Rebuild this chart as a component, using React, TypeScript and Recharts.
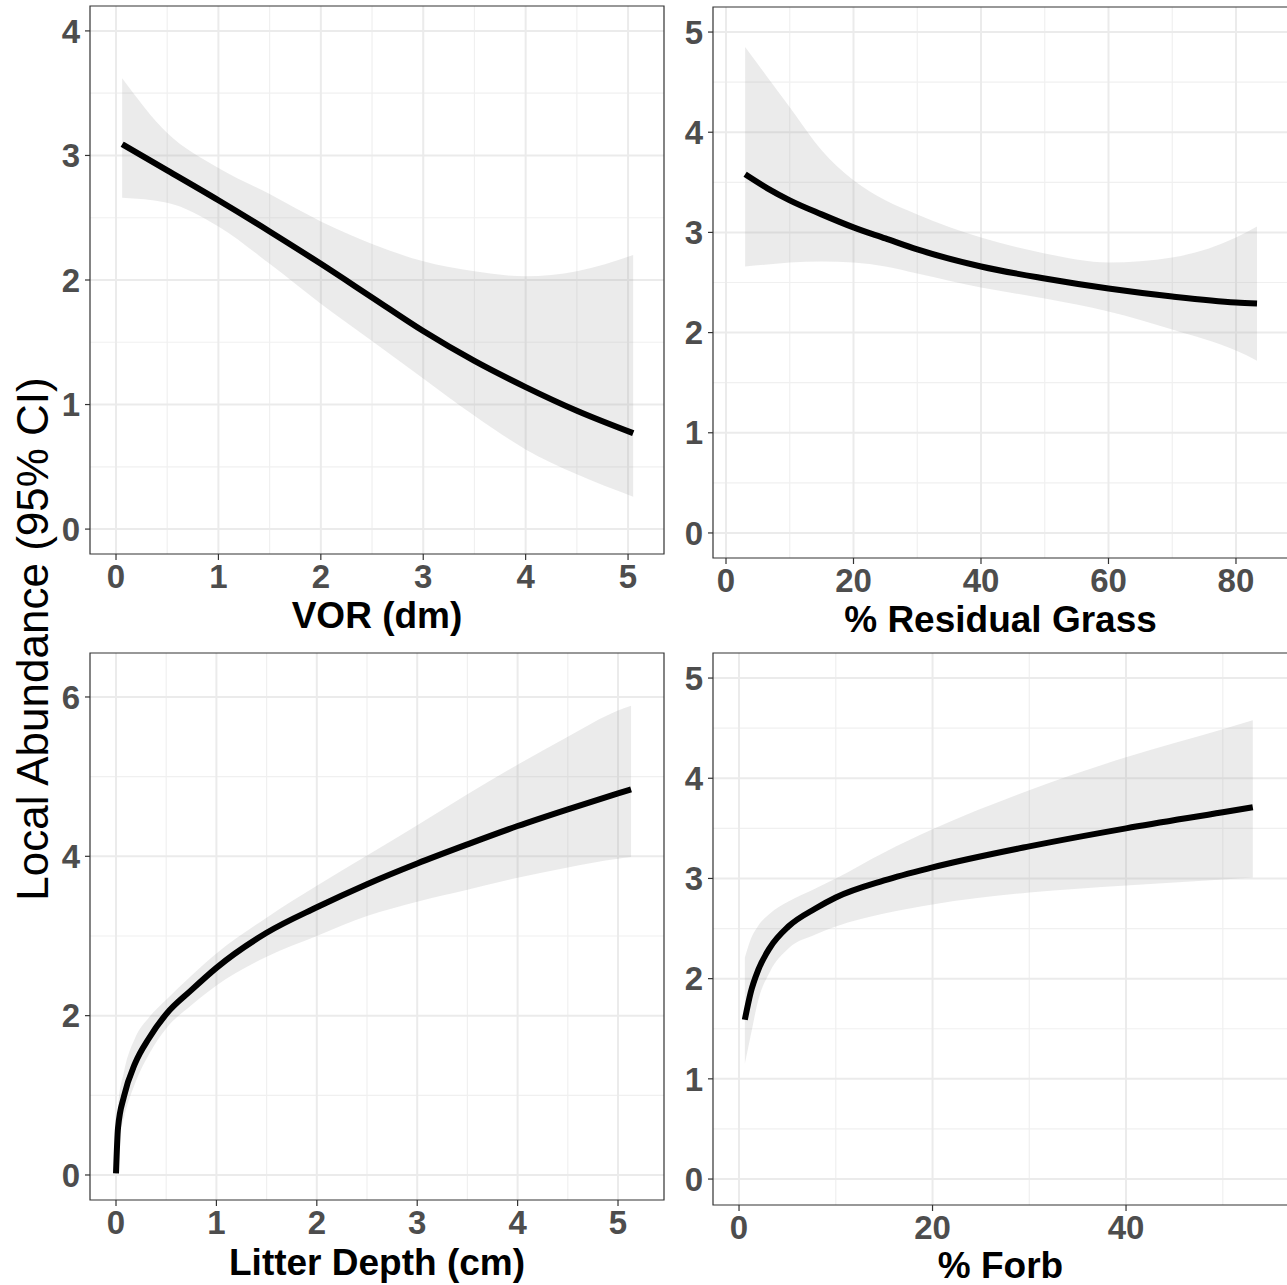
import React from 'react';
import {
  ComposedChart,
  Area,
  Line,
  XAxis,
  YAxis,
  CartesianGrid,
  ReferenceArea,
} from 'recharts';

const FONT = '"Liberation Sans", Arial, Helvetica, sans-serif';

// VOR (dm)
const vorX = [0.06, 0.5, 1, 1.5, 2, 2.5, 3, 3.5, 4, 4.5, 5.05];
const vorFit = [3.09, 2.88, 2.64, 2.39, 2.13, 1.86, 1.59, 1.35, 1.14, 0.95, 0.77];
const vorLow = [2.66, 2.62, 2.43, 2.13, 1.81, 1.51, 1.21, 0.91, 0.64, 0.44, 0.26];
const vorHigh = [3.62, 3.18, 2.9, 2.69, 2.47, 2.29, 2.15, 2.07, 2.03, 2.07, 2.2];

// % Residual Grass
const grassX = [3, 6.5, 10, 15, 20, 25, 30, 40, 50, 60, 70, 80, 83.3];
const grassFit = [3.58, 3.44, 3.32, 3.18, 3.05, 2.94, 2.83, 2.66, 2.54, 2.44, 2.36, 2.3, 2.29];
const grassLow = [2.66, 2.68, 2.7, 2.71, 2.7, 2.66, 2.59, 2.45, 2.34, 2.21, 2.03, 1.82, 1.72];
const grassHigh = [4.85, 4.55, 4.25, 3.82, 3.52, 3.32, 3.18, 2.95, 2.79, 2.7, 2.75, 2.95, 3.06];

// Litter Depth (cm)
const litterX = [0, 0.02, 0.08, 0.19, 0.33, 0.5, 0.75, 1, 1.5, 2, 2.5, 3, 3.5, 4, 4.5, 5, 5.13];
const litterFit = [0.02, 0.59, 0.99, 1.4, 1.72, 2.02, 2.32, 2.6, 3.04, 3.36, 3.65, 3.91, 4.15, 4.38, 4.59, 4.79, 4.84];
const litterLow = [0.0, 0.35, 0.72, 1.15, 1.52, 1.84, 2.13, 2.38, 2.74, 3.0, 3.25, 3.43, 3.58, 3.73, 3.86, 3.97, 3.99];
const litterHigh = [0.05, 0.85, 1.3, 1.72, 1.98, 2.2, 2.5, 2.78, 3.23, 3.63, 4.01, 4.39, 4.78, 5.15, 5.5, 5.83, 5.89];

// % Forb
const forbX = [0.6, 1.2, 2, 3.2, 5.1, 7.9, 10, 15, 20, 30, 40, 50, 53.1];
const forbFit = [1.59, 1.86, 2.09, 2.31, 2.52, 2.7, 2.81, 2.98, 3.11, 3.32, 3.5, 3.66, 3.71];
const forbLow = [1.15, 1.43, 1.79, 2.07, 2.3, 2.44, 2.52, 2.65, 2.74, 2.86, 2.93, 2.99, 3.01];
const forbHigh = [2.21, 2.39, 2.53, 2.65, 2.77, 2.9, 3.0, 3.26, 3.49, 3.88, 4.21, 4.49, 4.58];

const unitTicks = [0, 1, 2, 3, 4, 5];
const unitMinor = [0.5, 1.5, 2.5, 3.5, 4.5];

interface PanelProps {
  left: number;
  top: number;
  width: number;
  height: number;
  margin: { top: number; right: number; bottom: number; left: number };
  yAxisWidth: number;
  xAxisHeight: number;
  x: number[];
  fit: number[];
  low: number[];
  high: number[];
  xDomain: [number, number];
  yDomain: [number, number];
  xTicks: number[];
  xMinor: number[];
  yTicks: number[];
  yMinor: number[];
  xLabel: string;
  labelOffset: number;
}

function Panel(p: PanelProps) {
  const rows = p.x.map((v, i) => ({ x: v, fit: p.fit[i], band: [p.low[i], p.high[i]] }));
  const tick = { fill: '#4D4D4D', fontSize: 33, fontWeight: 'bold', fontFamily: FONT };

  return (
    <div style={{ position: 'absolute', left: p.left, top: p.top }}>
      <ComposedChart width={p.width} height={p.height} data={rows} margin={p.margin}>
        <CartesianGrid stroke="#F0F0F0" strokeWidth={1.2} horizontalValues={p.yMinor} verticalValues={p.xMinor} />
        <CartesianGrid stroke="#EBEBEB" strokeWidth={2} horizontalValues={p.yTicks} verticalValues={p.xTicks} />
        <XAxis
          dataKey="x"
          type="number"
          domain={p.xDomain}
          allowDataOverflow
          ticks={p.xTicks}
          interval={0}
          height={p.xAxisHeight}
          tick={tick}
          tickSize={6}
          tickMargin={5}
          tickLine={{ stroke: '#333333', strokeWidth: 1.2 }}
          axisLine={false}
          label={{
            value: p.xLabel,
            position: 'insideBottom',
            offset: p.labelOffset,
            fill: '#000000',
            fontSize: 37,
            fontWeight: 'bold',
            fontFamily: FONT,
          }}
        />
        <YAxis
          type="number"
          domain={p.yDomain}
          allowDataOverflow
          ticks={p.yTicks}
          interval={0}
          width={p.yAxisWidth}
          tick={tick}
          tickSize={5}
          tickMargin={5}
          tickLine={{ stroke: '#333333', strokeWidth: 1.2 }}
          axisLine={false}
        />
        <Area
          dataKey="band"
          type="monotone"
          stroke="none"
          fill="#999999"
          fillOpacity={0.2}
          isAnimationActive={false}
        />
        <Line
          dataKey="fit"
          type="monotone"
          stroke="#000000"
          strokeWidth={6}
          dot={false}
          activeDot={false}
          isAnimationActive={false}
        />
        <ReferenceArea
          x1={p.xDomain[0]}
          x2={p.xDomain[1]}
          y1={p.yDomain[0]}
          y2={p.yDomain[1]}
          fill="none"
          stroke="#333333"
          strokeWidth={1.2}
          ifOverflow="visible"
        />
      </ComposedChart>
    </div>
  );
}

export default function App() {
  return (
    <div
      style={{
        position: 'absolute',
        left: 0,
        top: 0,
        width: 1287,
        height: 1285,
        overflow: 'hidden',
        background: '#ffffff',
      }}
    >
      <Panel
        left={0}
        top={0}
        width={670}
        height={640}
        margin={{ top: 6, right: 6, bottom: 0, left: 0 }}
        yAxisWidth={90}
        xAxisHeight={86}
        x={vorX}
        fit={vorFit}
        low={vorLow}
        high={vorHigh}
        xDomain={[-0.254, 5.351]}
        yDomain={[-0.2, 4.2]}
        xTicks={unitTicks}
        xMinor={unitMinor}
        yTicks={[0, 1, 2, 3, 4]}
        yMinor={[0.5, 1.5, 2.5, 3.5]}
        xLabel="VOR (dm)"
        labelOffset={12}
      />
      <Panel
        left={670}
        top={0}
        width={620}
        height={640}
        margin={{ top: 7, right: 2, bottom: 0, left: 0 }}
        yAxisWidth={43}
        xAxisHeight={82}
        x={grassX}
        fit={grassFit}
        low={grassLow}
        high={grassHigh}
        xDomain={[-2.04, 88.16]}
        yDomain={[-0.25, 5.25]}
        xTicks={[0, 20, 40, 60, 80]}
        xMinor={[10, 30, 50, 70]}
        yTicks={[0, 1, 2, 3, 4, 5]}
        yMinor={unitMinor}
        xLabel="% Residual Grass"
        labelOffset={8}
      />
      <Panel
        left={0}
        top={645}
        width={670}
        height={640}
        margin={{ top: 8, right: 6, bottom: 0, left: 0 }}
        yAxisWidth={90}
        xAxisHeight={85}
        x={litterX}
        fit={litterFit}
        low={litterLow}
        high={litterHigh}
        xDomain={[-0.259, 5.458]}
        yDomain={[-0.314, 6.552]}
        xTicks={unitTicks}
        xMinor={unitMinor}
        yTicks={[0, 2, 4, 6]}
        yMinor={[1, 3, 5]}
        xLabel="Litter Depth (cm)"
        labelOffset={10}
      />
      <Panel
        left={670}
        top={645}
        width={620}
        height={640}
        margin={{ top: 8, right: 2, bottom: 0, left: 0 }}
        yAxisWidth={43}
        xAxisHeight={80}
        x={forbX}
        fit={forbFit}
        low={forbLow}
        high={forbHigh}
        xDomain={[-2.69, 56.74]}
        yDomain={[-0.259, 5.25]}
        xTicks={[0, 20, 40]}
        xMinor={[10, 30, 50]}
        yTicks={[0, 1, 2, 3, 4, 5]}
        yMinor={unitMinor}
        xLabel="% Forb"
        labelOffset={7}
      />
      <svg
        width={100}
        height={1285}
        style={{ position: 'absolute', left: 0, top: 0, pointerEvents: 'none' }}
      >
        <text
          x={0}
          y={0}
          transform="translate(48 639) rotate(-90)"
          textAnchor="middle"
          fontSize={44}
          fontFamily={FONT}
          fill="#000000"
        >
          Local Abundance (95% CI)
        </text>
      </svg>
    </div>
  );
}
